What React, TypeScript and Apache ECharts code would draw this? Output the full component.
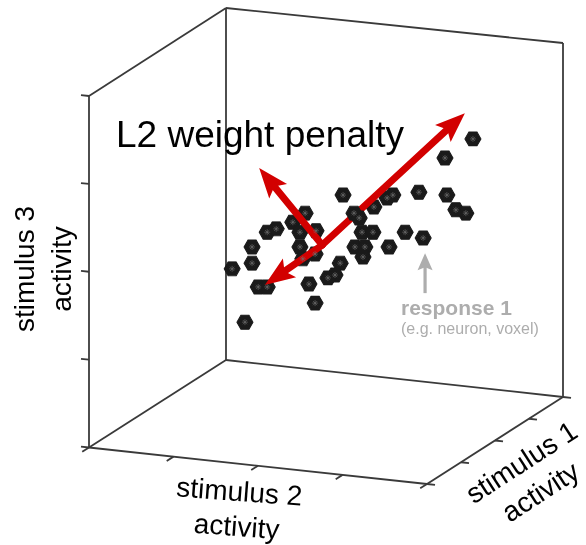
import { useEffect, useRef } from "react";
import * as echarts from "echarts";

// Projected positions of each response (horizontal, vertical), in plot units 0-100
const pointX = [81.0, 75.1, 69.6, 75.5, 77.4, 79.5, 53.6, 64.1, 62.9, 60.1, 45.6, 43.0, 37.6, 39.5, 44.5, 47.9, 57.6, 59.9, 66.7, 70.5, 34.4, 44.5, 56.1, 58.2, 63.3, 34.4, 30.2, 45.1, 47.7, 57.8, 53.0, 51.9, 50.4, 46.4, 35.7, 37.6, 47.7, 32.9];
const pointY = [72.5, 68.5, 61.3, 60.7, 57.6, 56.9, 60.7, 60.7, 60.1, 58.2, 56.9, 55.0, 52.9, 53.6, 52.9, 53.2, 52.9, 52.9, 52.9, 51.7, 49.8, 49.8, 49.8, 49.8, 49.8, 46.4, 45.2, 47.3, 48.3, 47.7, 46.4, 43.9, 43.3, 42.0, 41.4, 41.4, 38.0, 34.0];
// Responses lying in front of the weight arrows
const frontX = [55.9, 57.0];
const frontY = [56.9, 55.9];

// Weight arrows: [fromX, fromY, toX, toY]
const weightArrows = [
  [49.2, 50.2, 79.3, 77.9],
  [49.2, 50.2, 37.1, 41.8],
  [49.2, 50.2, 35.9, 66.4],
];
const pointerArrow = [[70.9, 40.1, 70.9, 48.5]];

const tickFractions = [0, 0.25, 0.5, 0.75, 1];
const axisNames = ["stimulus 1\nactivity", "stimulus 2\nactivity", "stimulus 3\nactivity"];
const titleText = "L2 weight penalty";
const responseLabel = "response 1";
const responseNote = "(e.g. neuron, voxel)";

// Frame corners (pixels)
const FTL = [89, 96];
const FBL = [89, 447.5];
const FBR = [427, 484];
const BTL = [226, 8];
const BBL = [226, 360];
const BTR = [563, 43];
const BBR = [563, 397];

const FONT = "'Liberation Sans', Arial, Helvetica, sans-serif";
const FRAME = "#3a3a3a";

function makeArrow(shaftW: number, headL: number, headHalf: number, notch: number, color: string, cap: string) {
  return (_params: any, api: any) => {
    const p0 = api.coord([api.value(0), api.value(1)]);
    const p1 = api.coord([api.value(2), api.value(3)]);
    const dx = p1[0] - p0[0];
    const dy = p1[1] - p0[1];
    const len = Math.hypot(dx, dy);
    const ux = dx / len;
    const uy = dy / len;
    const nx = -uy;
    const ny = ux;
    const bx = p1[0] - ux * headL;
    const by = p1[1] - uy * headL;
    const kx = p1[0] - ux * (headL - notch);
    const ky = p1[1] - uy * (headL - notch);
    return {
      type: "group",
      children: [
        {
          type: "line",
          shape: { x1: p0[0], y1: p0[1], x2: kx + ux * 2, y2: ky + uy * 2 },
          style: { stroke: color, lineWidth: shaftW, lineCap: cap },
        },
        {
          type: "polygon",
          shape: {
            points: [
              [p1[0], p1[1]],
              [bx + nx * headHalf, by + ny * headHalf],
              [kx, ky],
              [bx - nx * headHalf, by - ny * headHalf],
            ],
          },
          style: { fill: color },
        },
      ],
    };
  };
}

function lerp(a: number[], b: number[], t: number) {
  return [a[0] + (b[0] - a[0]) * t, a[1] + (b[1] - a[1]) * t];
}

function seg(a: number[], b: number[]) {
  return {
    type: "line",
    z: 0,
    silent: true,
    shape: { x1: a[0], y1: a[1], x2: b[0], y2: b[1] },
    style: { stroke: FRAME, lineWidth: 1.8 },
  };
}

function ticks(a: number[], b: number[], v: number[]) {
  return tickFractions.map((t) => {
    const p = lerp(a, b, t);
    return seg(p, [p[0] + v[0], p[1] + v[1]]);
  });
}

export default function App() {
  const ref = useRef<HTMLDivElement>(null);
  useEffect(() => {
    if (!ref.current) return;
    const chart = echarts.init(ref.current, null, { renderer: "svg" });
    const hex = "path://M0,6 L3.5,0 L10.5,0 L14,6 L10.5,12 L3.5,12 Z";
    const star = "path://M0,3L6,3M3,0L3,6M0.9,0.9L5.1,5.1M5.1,0.9L0.9,5.1";
    const backData = pointX.map((x, i) => [x, pointY[i]]);
    const frontData = frontX.map((x, i) => [x, frontY[i]]);
    const allData = backData.concat(frontData);

    const frame = [
      seg(FTL, FBL),
      seg(FBL, FBR),
      seg(FBR, BBR),
      seg(FBL, BBL),
      seg(FTL, BTL),
      seg(BTL, BBL),
      seg(BTL, BTR),
      seg(BTR, BBR),
      seg(BBL, BBR),
      ...ticks(FTL, FBL, [-8, -0.85]),
      ...ticks(FBL, FBR, [-6.8, 4.3]),
      ...ticks(FBR, BBR, [8, 0.85]),
    ];

    const textBase = { fontFamily: FONT, fill: "#000", align: "center", verticalAlign: "middle" };
    const texts = [
      {
        type: "text", z: 10, x: 531, y: 477, rotation: 0.576,
        style: { ...textBase, text: axisNames[0], fontSize: 28, lineHeight: 35 },
      },
      {
        type: "text", z: 10, x: 238, y: 509, rotation: -0.075,
        style: { ...textBase, text: axisNames[1], fontSize: 28, lineHeight: 35 },
      },
      {
        type: "text", z: 10, x: 43, y: 269, rotation: Math.PI / 2,
        style: { ...textBase, text: axisNames[2], fontSize: 28, lineHeight: 37 },
      },
      {
        type: "text", z: 10, x: 116, y: 134,
        style: { ...textBase, align: "left", text: titleText, fontSize: 37 },
      },
      {
        type: "text", z: 10, x: 401, y: 307,
        style: { ...textBase, align: "left", text: responseLabel, fontSize: 21, fontWeight: "bold", fill: "#adadad" },
      },
      {
        type: "text", z: 10, x: 401, y: 328.5,
        style: { ...textBase, align: "left", text: responseNote, fontSize: 16, fill: "#adadad" },
      },
    ];

    const hexStyle = { color: "#1a1a1a", borderColor: "#1a1a1a", borderWidth: 1, opacity: 1 };

    chart.setOption({
      animation: false,
      grid: { left: 89, right: 23, top: 8, bottom: 61 },
      xAxis: { type: "value", min: 0, max: 100, show: false },
      yAxis: { type: "value", min: 0, max: 100, show: false },
      series: [
        {
          type: "scatter", z: 3, data: backData, symbol: hex, symbolSize: [16, 14],
          itemStyle: hexStyle,
        },
        {
          type: "custom", z: 4, data: weightArrows,
          renderItem: makeArrow(7, 30, 11.5, 6, "#d20000", "round"),
        },
        {
          type: "scatter", z: 5, data: frontData, symbol: hex, symbolSize: [16, 14],
          itemStyle: hexStyle,
        },
        {
          type: "scatter", z: 6, data: allData, symbol: star, symbolSize: 6, silent: true,
          itemStyle: { color: "rgba(0,0,0,0)", borderColor: "#707070", borderWidth: 0.6, opacity: 1 },
        },
        {
          type: "custom", z: 4, data: pointerArrow,
          renderItem: makeArrow(3.2, 17, 7.5, 3, "#adadad", "butt"),
        },
      ],
      graphic: { elements: [...frame, ...texts] },
    });
    return () => chart.dispose();
  }, []);
  return <div ref={ref} style={{ position: "fixed", left: 0, top: 0, width: 586, height: 545 }} />;
}
